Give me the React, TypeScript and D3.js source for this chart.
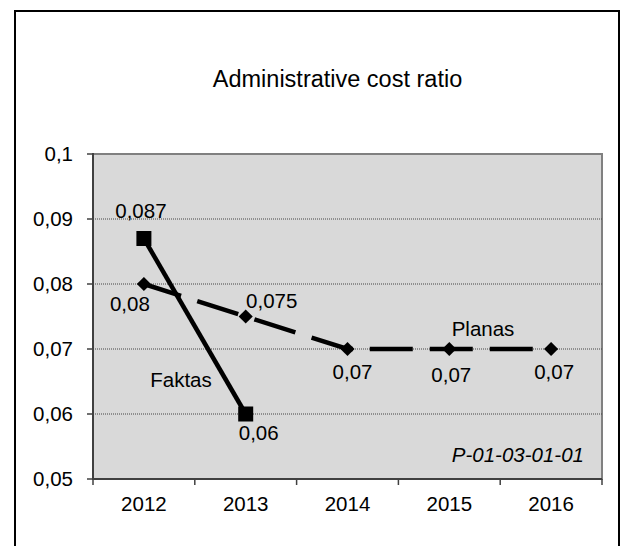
import React from "react";
import * as d3 from "d3";

const years = ["2012", "2013", "2014", "2015", "2016"];
const faktas = [0.087, 0.06];
const planas = [0.08, 0.075, 0.07, 0.07, 0.07];
const yTicks = [0.05, 0.06, 0.07, 0.08, 0.09, 0.1];
const title = "Administrative cost ratio";
const faktasLabels = ["0,087", "0,06"];
const planasLabels = ["0,08", "0,075", "0,07", "0,07", "0,07"];

const W = 627;
const H = 546;
const L = 93, R = 602, T = 154, B = 479;
const FS = 20.5;

export default function App() {
  const x = d3.scaleBand<string>().domain(years).range([L, R]);
  const cx = (y: string) => (x(y) as number) + x.bandwidth() / 2;
  const y = d3.scaleLinear().domain([0.05, 0.1]).range([B, T]);
  const line = d3.line<number>().x((_, i) => cx(years[i])).y((v) => y(v));
  const fmt = (v: number) => String(v).replace(".", ",");

  // label offsets (dx, baseline dy) relative to point
  const faktasOff = [[-3, -21], [13, 26]];
  const planasOff = [[-14, 27], [26, -9], [5, 30], [2, 33], [3, 30]];

  return (
    <svg width={W} height={H} style={{ position: "absolute", left: 0, top: 0 }} fontFamily="'Liberation Sans', Arial, sans-serif">
      <rect x={0} y={0} width={W} height={H} fill="#fff" />
      <rect x={15} y={11} width={604} height={H + 20} fill="none" stroke="#000" strokeWidth={2} />
      <text x={337.5} y={87} fontSize={23.5} textAnchor="middle" fill="#000">{title}</text>
      <rect x={L} y={T} width={R - L} height={B - T} fill="#d9d9d9" stroke="#808080" strokeWidth={2} />
      {yTicks.map((t) => (
        <g key={t}>
          {t > 0.05 && t < 0.1 && (
            <line x1={L} x2={R} y1={y(t)} y2={y(t)} stroke="#444" strokeWidth={1} strokeDasharray="1,1" />
          )}
          <line x1={L - 6} x2={L} y1={y(t)} y2={y(t)} stroke="#404040" strokeWidth={1.5} />
          <text x={73} y={y(t) + 7} fontSize={FS} textAnchor="end" fill="#000">{fmt(t)}</text>
        </g>
      ))}
      <line x1={L} x2={L} y1={T - 1} y2={B + 1} stroke="#404040" strokeWidth={2} />
      <line x1={L} x2={R} y1={B} y2={B} stroke="#404040" strokeWidth={2} />
      {d3.range(years.length + 1).map((i) => {
        const xx = L + i * x.bandwidth();
        return <line key={i} x1={xx} x2={xx} y1={B} y2={B + 6} stroke="#404040" strokeWidth={1.5} />;
      })}
      {years.map((yr) => (
        <text key={yr} x={cx(yr)} y={510.5} fontSize={FS} textAnchor="middle" fill="#000">{yr}</text>
      ))}
      <path d={line(planas) || ""} fill="none" stroke="#000" strokeWidth={4.5} strokeDasharray="43,17" strokeDashoffset={4} />
      {planas.map((v, i) => (
        <rect key={i} x={-5} y={-5} width={10} height={10} fill="#000"
          transform={`translate(${cx(years[i])},${y(v)}) rotate(45)`} />
      ))}
      <path d={line(faktas) || ""} fill="none" stroke="#000" strokeWidth={4.5} />
      {faktas.map((v, i) => (
        <rect key={i} x={cx(years[i]) - 7.5} y={y(v) - 7.5} width={15} height={15} fill="#000" />
      ))}
      {faktas.map((v, i) => (
        <text key={i} x={cx(years[i]) + faktasOff[i][0]} y={y(v) + faktasOff[i][1]} fontSize={FS} textAnchor="middle" fill="#000">{faktasLabels[i]}</text>
      ))}
      {planas.map((v, i) => (
        <text key={i} x={cx(years[i]) + planasOff[i][0]} y={y(v) + planasOff[i][1]} fontSize={FS} textAnchor="middle" fill="#000">{planasLabels[i]}</text>
      ))}
      <text x={181} y={386.5} fontSize={FS} textAnchor="middle" fill="#000">Faktas</text>
      <text x={483} y={336} fontSize={FS} textAnchor="middle" fill="#000">Planas</text>
      <text x={584} y={461.5} fontSize={FS} fontStyle="italic" textAnchor="end" fill="#000">P-01-03-01-01</text>
    </svg>
  );
}
